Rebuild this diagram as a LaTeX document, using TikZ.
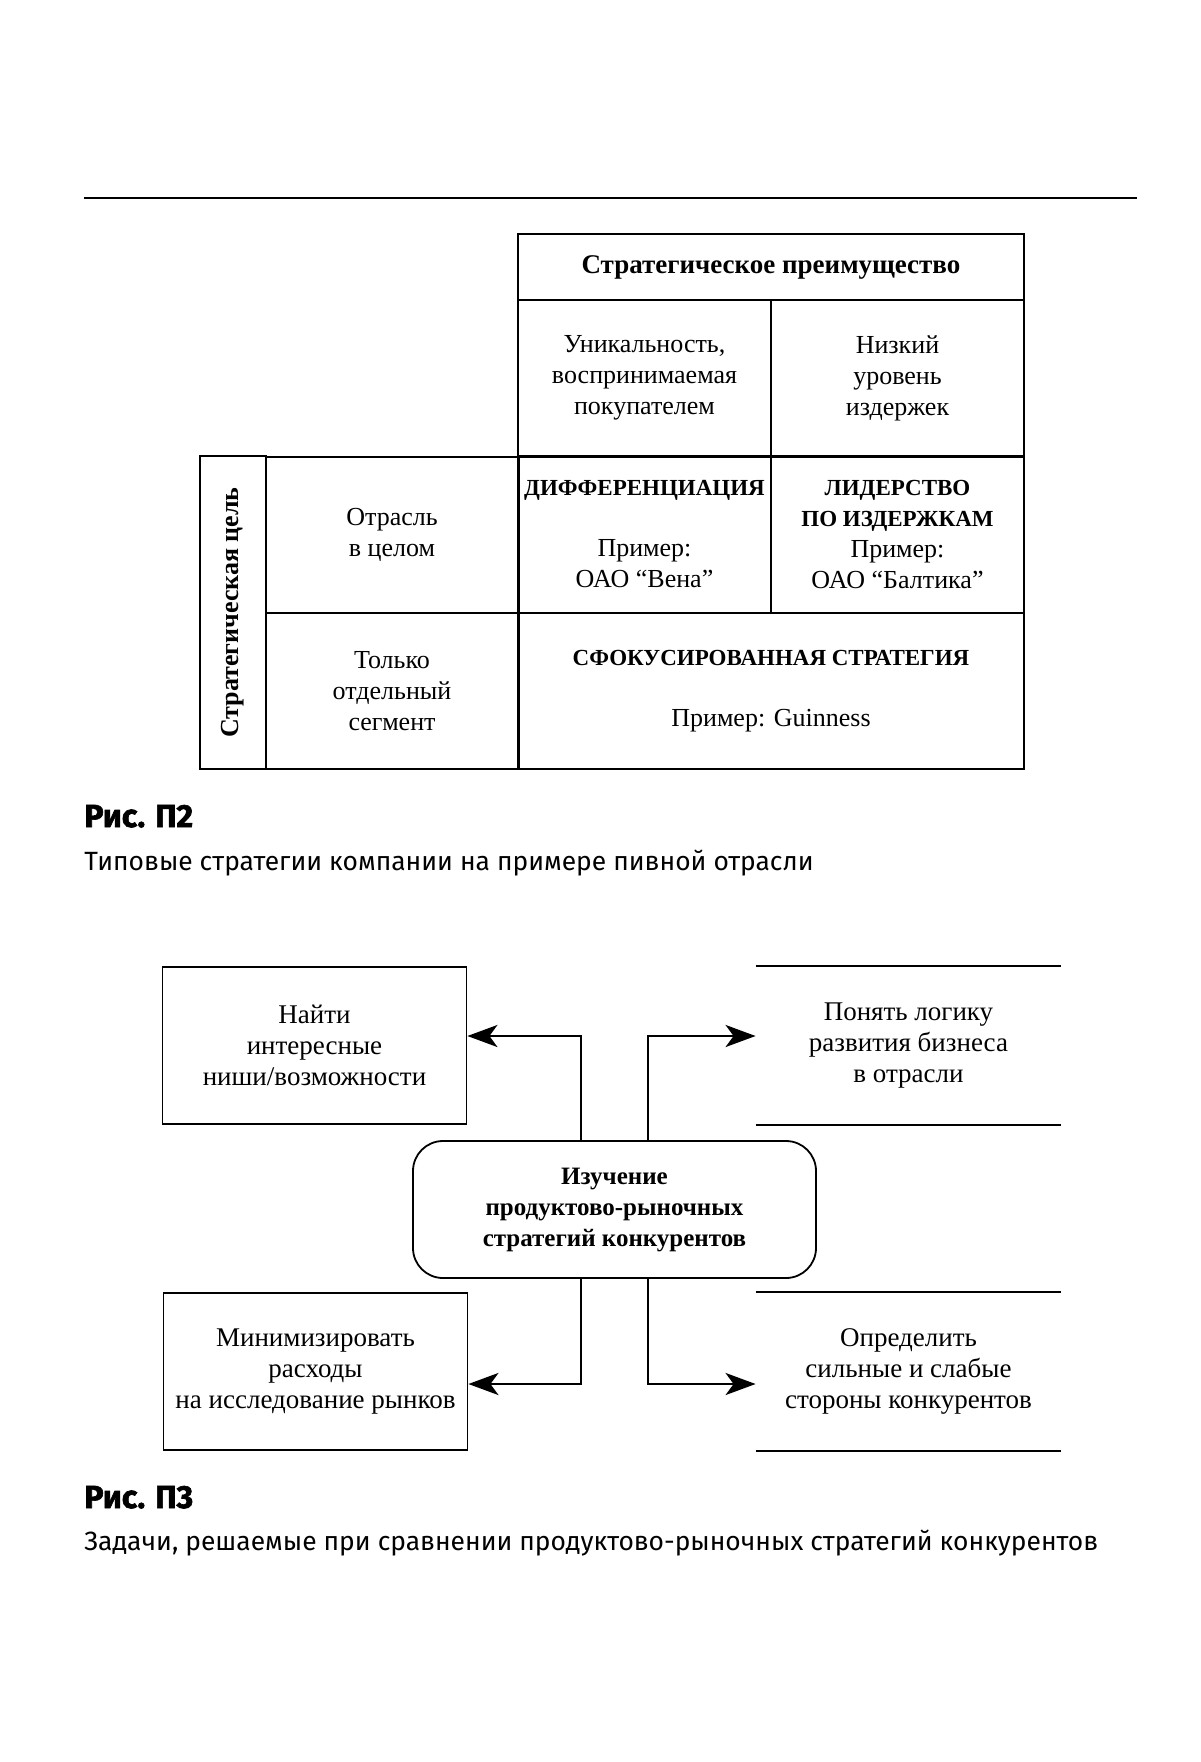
\documentclass[tikz,border=0pt]{standalone}
\usepackage{fontspec}
\setmainfont{Liberation Serif}
\newfontfamily\capfont{Fira Sans}
\newfontfamily\capheavy[FakeBold=2]{Fira Sans}
\usetikzlibrary{arrows.meta}
\newcommand\capsf{\bfseries\fontsize{11.5}{15}\selectfont}
\newcommand\plainf{\mdseries\fontsize{13}{15.5}\selectfont}

\begin{document}
\begin{tikzpicture}[x=0.5pt,y=-0.5pt,
    cell/.style={draw,line width=1pt,inner sep=0pt,align=center,
                 font=\fontsize{13}{15.5}\selectfont},
    half cell/.style={cell,minimum width=126.5pt,minimum height=78pt},
    wide cell/.style={cell,minimum width=253pt,minimum height=78pt},
    task box/.style={draw,line width=0.9pt,minimum width=152pt,minimum height=78.5pt,
                     align=center,font=\fontsize{13.5}{15.5}\selectfont},
    open box/.style={task box,draw=none},
    link/.style={line width=1.4pt,-{Stealth[length=15pt,width=11pt,inset=4pt]}},
    capt head/.style={anchor=base west,inner sep=0pt,font=\capheavy\bfseries\fontsize{16}{18}\selectfont},
    capt text/.style={anchor=base west,inner sep=0pt,font=\capfont\fontsize{13.2}{16}\selectfont}]

  \useasboundingbox (0,0) rectangle (1200,1762);

  % page rule
  \draw[line width=1pt] (84,198) -- (1137,198);

  % Рис. П2
  \node[cell,minimum width=253pt,minimum height=33pt,font=\bfseries\fontsize{13.5}{16}\selectfont]
    (head) at (771,267) {Стратегическое преимущество};
  \node[half cell] (uniq) at (644.5,378) {Уникальность,\\воспринимаемая\\покупателем};
  \node[half cell] (low) at (897.5,378) {Низкий\\уровень\\издержек};
  \node[cell,rotate=90,minimum width=156.5pt,minimum height=33pt,
        font=\bfseries\fontsize{13}{15}\selectfont] (goal) at (233,612.5) {Стратегическая цель};
  \node[half cell] (whole) at (392,534.5) {Отрасль\\в целом};
  \node[half cell] (diff) at (644.5,534.5)
    {\capsf ДИФФЕРЕНЦИАЦИЯ\\[15pt]\plainf Пример:\\\plainf ОАО “Вена”};
  \node[half cell] (cost) at (897.5,534.5)
    {\capsf ЛИДЕРСТВО\\\capsf ПО ИЗДЕРЖКАМ\\\plainf Пример:\\\plainf ОАО “Балтика”};
  \node[half cell] (segment) at (392,691) {Только\\отдельный\\сегмент};
  \node[wide cell] (focus) at (771,691)
    {\capsf СФОКУСИРОВАННАЯ СТРАТЕГИЯ\\[15pt]\plainf Пример: Guinness};

  \node[capt head] (fig2) at (84,827) {Рис. П2};
  \node[capt text] (fig2 text) at (84,870) {Типовые стратегии компании на примере пивной отрасли};

  % Рис. П3
  \node[draw,line width=0.9pt,rounded corners=15pt,minimum width=201.5pt,minimum height=68.5pt,
        align=center,font=\bfseries\fontsize{12.5}{15.5}\selectfont]
    (study) at (614.5,1209.5) {Изучение\\продуктово-рыночных\\стратегий конкурентов};
  \node[task box] (find) at (314.5,1045.5) {Найти\\интересные\\ниши/возможности};
  \node[open box] (logic) at (908.5,1045.5) {Понять логику\\развития бизнеса\\в отрасли};
  \node[task box] (cut) at (315.5,1371.5) {Минимизировать\\расходы\\на исследование рынков};
  \node[open box] (weak) at (908.5,1371.5) {Определить\\сильные и слабые\\стороны конкурентов};

  \draw[line width=0.9pt] (logic.north west) -- (logic.north east);
  \draw[line width=0.9pt] (logic.south west) -- (logic.south east);
  \draw[line width=0.9pt] (weak.north west) -- (weak.north east);
  \draw[line width=0.9pt] (weak.south west) -- (weak.south east);

  \draw[link] ([xshift=-16.75pt]study.north) |- ([yshift=4.75pt]find.east);
  \draw[link] ([xshift=16.75pt]study.north) |- ([yshift=4.75pt]logic.west);
  \draw[link] ([xshift=-16.75pt]study.south) |- ([yshift=-6.25pt]cut.east);
  \draw[link] ([xshift=16.75pt]study.south) |- ([yshift=-6.25pt]weak.west);

  \node[capt head] (fig3) at (84,1508) {Рис. П3};
  \node[capt text] (fig3 text) at (84,1550)
    {Задачи, решаемые при сравнении продуктово-рыночных стратегий конкурентов};
\end{tikzpicture}
\end{document}
